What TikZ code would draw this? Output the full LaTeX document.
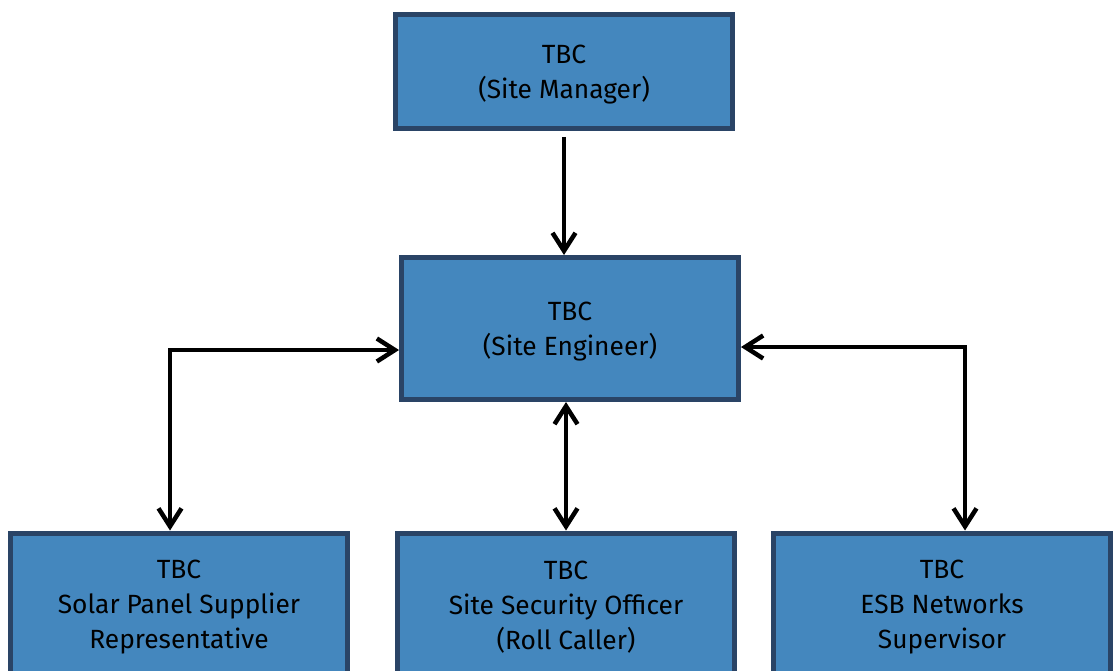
\documentclass[tikz,border=0pt]{standalone}
\usepackage{fontspec}
\setmainfont{Fira Sans}
\usetikzlibrary{arrows.meta}
\definecolor{bleu}{HTML}{4487BE}
\definecolor{bordure}{HTML}{2A4466}
\tikzset{
  poste/.style={rectangle, fill=bleu, draw=bordure, line width=0.1cm,
    minimum width=6.74cm, align=center, text=black,
    font=\fontsize{15}{20}\selectfont},
  pointe/.tip={Straight Barb[length=0.36cm, width=0.46cm, line width=0.09cm]},
  fleche/.style={line width=0.09cm, line join=miter, -pointe},
  double fleche/.style={line width=0.09cm, line join=miter, pointe-pointe}
}
\begin{document}
\begin{tikzpicture}[x=0.02cm, y=-0.02cm]
	\useasboundingbox (0,0) rectangle (1114,670);
	% les postes
	\node[poste, minimum height=2.28cm] (manager) at (564,71.5) {\strut TBC\\(Site Manager)};
	\node[poste, minimum height=2.84cm] (engineer) at (570,328.5) {\strut TBC\\(Site Engineer)};
	\node[poste, minimum height=2.84cm] (supplier) at (179,604) {\strut TBC\\Solar Panel Supplier\\Representative};
	\node[poste, minimum height=2.84cm] (security) at (566,604) {\strut TBC\\Site Security Officer\\(Roll Caller)};
	\node[poste, minimum height=2.84cm] (esb) at (942,604) {\strut TBC\\ESB Networks\\Supervisor};
	% les coudes
	\coordinate (cg) at (170,350);
	\coordinate (cd) at (965,347);
	% les liens
	\draw[fleche] ([yshift=-0.12cm]manager.south) -- (manager.south |- engineer.north);
	\draw[double fleche] (engineer.west |- cg) -- (cg) -- (cg |- supplier.north);
	\draw[double fleche] (engineer.east |- cd) -- (cd) -- (cd |- esb.north);
	\draw[double fleche] (security.north |- engineer.south) -- (security.north);
\end{tikzpicture}
\end{document}
